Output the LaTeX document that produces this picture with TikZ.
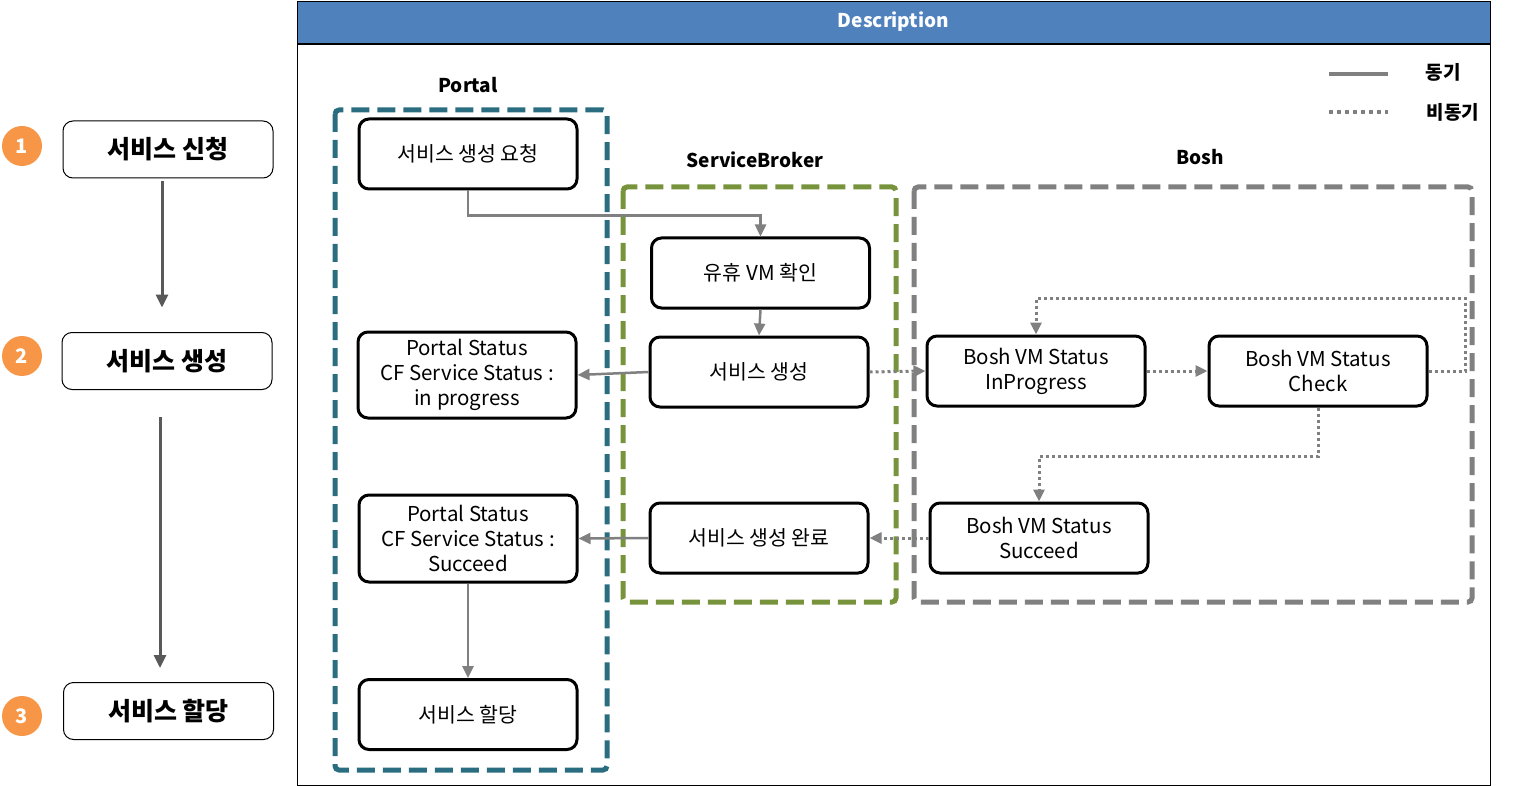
\documentclass[tikz,border=0pt]{standalone}
\usepackage{fontspec}
\setmainfont{Noto Sans CJK KR}
\usetikzlibrary{arrows.meta}
\definecolor{portalc}{RGB}{42,108,128}
\definecolor{brokerc}{RGB}{119,147,60}
\definecolor{boshc}{RGB}{128,128,128}
\definecolor{headc}{RGB}{79,129,189}
\definecolor{numc}{RGB}{247,150,70}
\definecolor{stagec}{RGB}{89,89,89}
\tikzset{
  box/.style={draw, line width=3pt, rounded corners=10pt, minimum width=218pt, minimum height=70pt, align=center, inner sep=2pt, font=\fontsize{20.5}{25}\selectfont},
  stage/.style={draw, line width=1pt, rounded corners=10pt, minimum width=210pt, minimum height=57pt, font=\bfseries\fontsize{25}{28}\selectfont},
  num/.style={circle, fill=numc, text=white, minimum size=40pt, inner sep=0pt, font=\bfseries\fontsize{20}{24}\selectfont},
  title/.style={font=\bfseries\fontsize{19}{24}\selectfont},
  group/.style={line width=5pt, dash pattern=on 18pt off 8pt, rounded corners=4pt},
  sync/.style={draw=boshc, line width=2.5pt, -{Triangle[length=12pt,width=11pt]}},
  async/.style={sync, line width=3pt, dash pattern=on 3pt off 3pt},
  flow/.style={draw=stagec, line width=3pt, -{Triangle[length=13pt,width=12pt]}}
}
\begin{document}
\begin{tikzpicture}[x=1pt,y=-1pt]
  \useasboundingbox (0,0) rectangle (1514,786);

  % header and frame
  \node[draw, fill=headc, text=white, minimum width=1193pt, minimum height=42pt, title] (head) at (893.5,22) {Description};
  \draw[line width=1pt] (297,45) rectangle (1490,785);

  % stages on the left
  \node[num] (n1) at (22,146) {1};
  \node[num] (n2) at (22,356) {2};
  \node[num] (n3) at (22,716) {3};
  \node[stage] (apply) at (168,149.5) {서비스 신청};
  \node[stage] (make) at (167,361) {서비스 생성};
  \node[stage] (assign) at (168.5,711) {서비스 할당};
  \draw[flow] (apply.south) ++(-6,3) -- ++(0,126);
  \draw[flow] (make.south) ++(-7,27) -- ++(0,251);

  % groups
  \draw[group, draw=portalc] (335,110) rectangle (607,770);
  \draw[group, draw=brokerc] (623,187) rectangle (896,602);
  \draw[group, draw=boshc] (914,187) rectangle (1472,602);
  \node[title] (portal) at (468,85) {Portal};
  \node[title] (broker) at (755,160) {ServiceBroker};
  \node[title] (bosh) at (1200,157) {Bosh};

  % legend
  \draw[boshc, line width=4pt] (1329,74) -- (1388,74);
  \draw[boshc, line width=4pt, dash pattern=on 4pt off 4pt] (1329,112) -- (1388,112);
  \node[title] (syncl) at (1443,72) {동기};
  \node[title] (asyncl) at (1453,112) {비동기};

  % portal
  \node[box] (req) at (468,154) {서비스 생성 요청};
  \node[box, minimum height=86pt] (ps1) at (467,375) {Portal Status\\CF Service Status :\\in progress};
  \node[box, minimum height=87pt] (ps2) at (468,538.5) {Portal Status\\CF Service Status :\\Succeed};
  \node[box] (alloc) at (468,714.5) {서비스 할당};

  % service broker
  \node[box] (vm) at (760.5,273) {유휴 VM 확인};
  \node[box] (create) at (759,372) {서비스 생성};
  \node[box] (done) at (759,538) {서비스 생성 완료};

  % bosh
  \node[box] (bip) at (1036,371) {Bosh VM Status\\InProgress};
  \node[box] (bchk) at (1318,371) {Bosh VM Status\\Check};
  \node[box] (bsuc) at (1039,538) {Bosh VM Status\\Succeed};
  \coordinate (loop) at (1465,298);

  \draw[sync] (req.south) -- ++(0,25) -| (vm.north);
  \draw[sync] (vm.south) -- (create.north);
  \draw[sync] (create.west) -- (ps1.east);
  \draw[async] (create.east) -- (bip.west);
  \draw[async] (bip.east) -- (bchk.west);
  \draw[async] (bchk.east) -| (loop) -| (bip.north);
  \draw[async] (bchk.south) -- ++(0,49) -| (bsuc.north);
  \draw[async] (bsuc.west) -- (done.east);
  \draw[sync] (done.west) -- (ps2.east);
  \draw[sync] (ps2.south) -- (alloc.north);
\end{tikzpicture}
\end{document}
